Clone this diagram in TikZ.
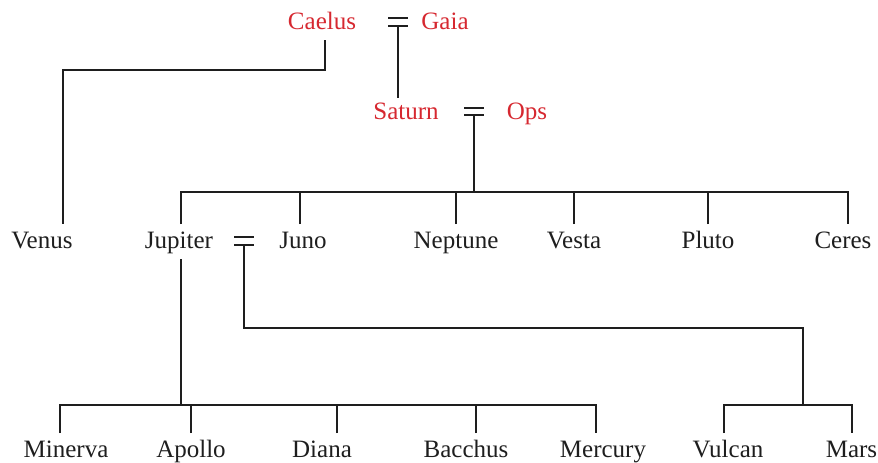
\documentclass[tikz,border=0pt]{standalone}
\usepackage{fontspec}
\setmainfont{Liberation Serif}
\definecolor{gred}{RGB}{214,40,48}
\definecolor{ink}{RGB}{30,30,30}
\begin{document}
\begin{tikzpicture}[x=1pt,y=-1pt,line width=1.8pt,draw=ink,
  person/.style={font=\fontsize{25}{29}\selectfont,text=ink,inner sep=0pt,
    text height=17pt,text depth=4pt,outer ysep=7pt,anchor=base},
  elder/.style={person,text=gred},
  wed/.style={line width=1.9pt}]
\useasboundingbox (0,0) rectangle (878,463);
% generation 1
\node[elder] (caelus) at (322,29) {Caelus};
\node[elder] (gaia) at (445,29) {Gaia};
\coordinate (m1) at (398,22);
% generation 2
\node[elder] (saturn) at (406,119) {Saturn};
\node[elder] (ops) at (527,119) {Ops};
\coordinate (m2) at (474,111.5);
% generation 3
\node[person] (venus) at (42,248) {Venus};
\node[person] (jupiter) at (179,248) {Jupiter};
\node[person] (juno) at (303,248) {Juno};
\node[person] (neptune) at (456,248) {Neptune};
\node[person] (vesta) at (574,248) {Vesta};
\node[person] (pluto) at (708,248) {Pluto};
\node[person] (ceres) at (843,248) {Ceres};
\coordinate (m3) at (244,241);
% generation 4
\node[person] (minerva) at (66,457) {Minerva};
\node[person] (apollo) at (191,457) {Apollo};
\node[person] (diana) at (322,457) {Diana};
\node[person] (bacchus) at (466,457) {Bacchus};
\node[person] (mercury) at (603,457) {Mercury};
\node[person] (vulcan) at (728,457) {Vulcan};
\node[person] (mars) at (851.5,457) {Mars};
% helper levels
\coordinate (bar1) at (0,70);
\coordinate (bar2) at (0,192);
\coordinate (bar4) at (0,328);
\coordinate (bar3) at (0,405);
\coordinate (jm) at (803,0);
\coordinate (caelusB) at ([xshift=3pt]caelus.south);
\coordinate (saturnT) at ([yshift=-3pt]saturn.north);
\coordinate (venusT) at ([xshift=21pt]venus.north);
\coordinate (jupiterT) at ([xshift=2pt]jupiter.north);
\coordinate (jupiterB) at ([xshift=2pt]jupiter.south);
\coordinate (junoT) at ([xshift=-3pt]juno.north);
\coordinate (ceresT) at ([xshift=5pt]ceres.north);
\coordinate (minervaT) at ([xshift=-6pt]minerva.north);
\coordinate (dianaT) at ([xshift=15pt]diana.north);
\coordinate (bacchusT) at ([xshift=10pt]bacchus.north);
\coordinate (mercuryT) at ([xshift=-7pt]mercury.north);
\coordinate (vulcanT) at ([xshift=-4pt]vulcan.north);
\coordinate (marsT) at ([xshift=0.5pt]mars.north);
% marriage signs
\foreach \m in {m1,m2,m3}
  \draw[wed] ([shift={(-10,-3.75)}]\m) -- ++(20,0)
             ([shift={(-10,3.75)}]\m) -- ++(20,0);
% connectors
\draw (caelusB) -- (caelusB |- bar1) -| (venusT);
\draw ([yshift=-3.75pt]m1) -- (m1 |- saturnT);
\draw ([yshift=-3.75pt]m2) -- (m2 |- bar2);
\draw (jupiterT) -- (jupiterT |- bar2) -- (ceresT |- bar2) -- (ceresT);
\draw (junoT) -- (junoT |- bar2);
\foreach \n in {neptune,vesta,pluto}
  \draw (\n.north) -- (\n.north |- bar2);
\draw (jupiterB) -- (jupiterB |- bar3);
\draw (minervaT) -- (minervaT |- bar3) -- (mercuryT |- bar3) -- (mercuryT);
\draw (apollo.north) -- (apollo.north |- bar3);
\draw (dianaT) -- (dianaT |- bar3);
\draw (bacchusT) -- (bacchusT |- bar3);
\draw ([yshift=-3.75pt]m3) -- (m3 |- bar4) -- (jm |- bar4) -- (jm |- bar3);
\draw (vulcanT) -- (vulcanT |- bar3) -- (marsT |- bar3) -- (marsT);
\end{tikzpicture}
\end{document}
